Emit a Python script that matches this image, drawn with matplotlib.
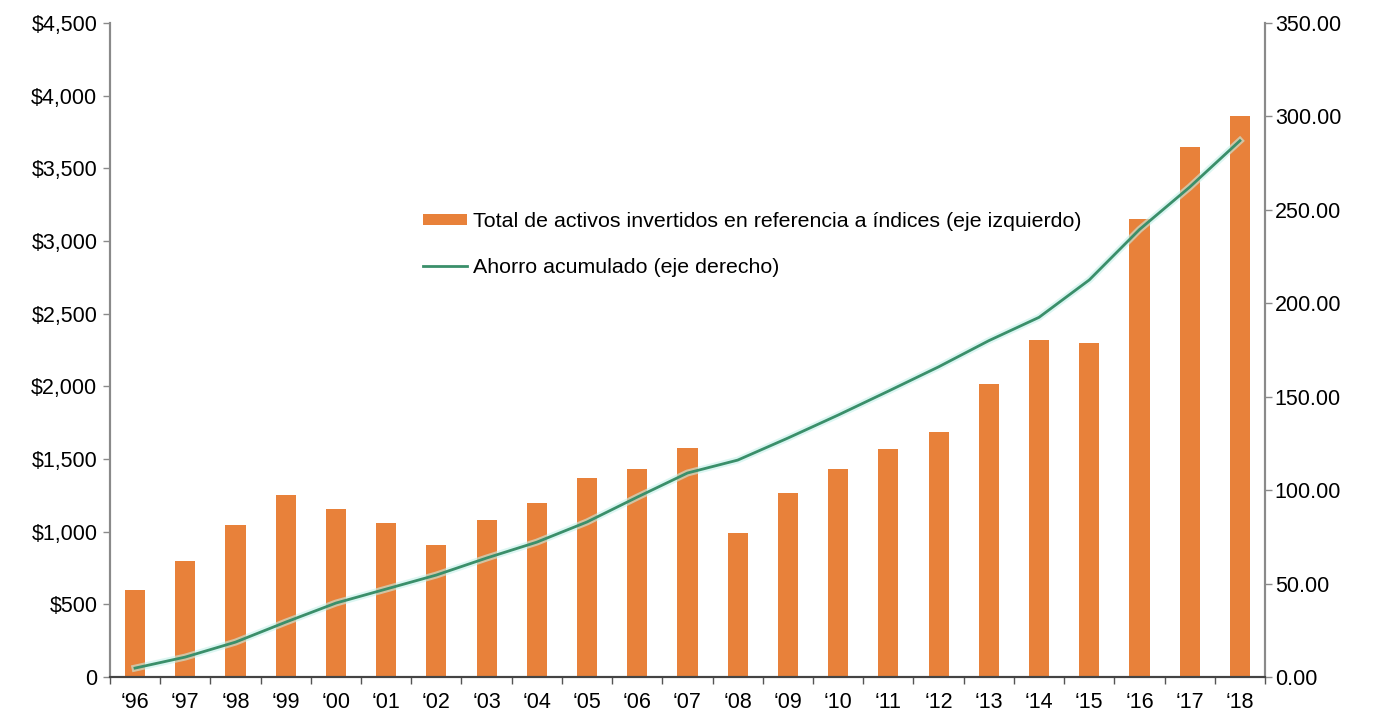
import matplotlib
matplotlib.use("Agg")
from matplotlib import pyplot as plt
from matplotlib.ticker import FuncFormatter, FixedLocator
import numpy as np

plt.rcParams['font.family'] = ['Liberation Sans', 'DejaVu Sans']

years = ["‘96", "‘97", "‘98", "‘99", "‘00", "‘01", "‘02", "‘03", "‘04", "‘05", "‘06", "‘07",
         "‘08", "‘09", "‘10", "‘11", "‘12", "‘13", "‘14", "‘15", "‘16", "‘17", "‘18"]
# total de activos (eje izquierdo, miles de millones de USD)
activos = [600, 800, 1045, 1250, 1155, 1060, 910, 1080, 1200, 1370, 1430, 1575,
           990, 1265, 1430, 1570, 1685, 2015, 2320, 2300, 3150, 3645, 3860]
# ahorro acumulado (eje derecho)
ahorro = [4.8, 10.7, 18.7, 29.4, 39.6, 47.1, 54.6, 63.7, 72.2, 83.0, 96.3, 109.2,
          116.1, 127.9, 140.2, 153.0, 166.0, 180.0, 192.5, 212.5, 239.5, 262.2, 287.0]

left_ticks = [0, 500, 1000, 1500, 2000, 2500, 3000, 3500, 4000, 4500]
right_ticks = [0, 50, 100, 150, 200, 250, 300, 350]

orange = '#E8813A'
green = '#3a8f6a'
spine_grey = '#8a8a8a'

fig = plt.figure(figsize=(13.74, 7.18), dpi=100)
ax = fig.add_axes([0.080, 0.057, 0.8407, 0.911])
ax2 = ax.twinx()

x = np.arange(len(years))
bars = ax.bar(x, activos, width=0.4, color=orange, zorder=2,
              label='Total de activos invertidos en referencia a índices (eje izquierdo)')
ax2.plot(x, ahorro, color='#c4f0ea', linewidth=5, alpha=0.6, zorder=2)
line, = ax2.plot(x, ahorro, color=green, linewidth=2, zorder=3,
                 label='Ahorro acumulado (eje derecho)')

ax.set_xlim(-0.5, len(years) - 0.5)
ax.set_ylim(0, 4500)
ax2.set_ylim(0, 350)
ax.set_yticks(left_ticks)
ax2.set_yticks(right_ticks)
ax.yaxis.set_major_formatter(FuncFormatter(lambda v, p: '0' if v == 0 else '${:,.0f}'.format(v)))
ax2.yaxis.set_major_formatter(FuncFormatter(lambda v, p: '{:.2f}'.format(v)))

ax.set_xticks(x)
ax.set_xticklabels(years)
ax.xaxis.set_minor_locator(FixedLocator(np.arange(-0.5, len(years), 1.0)))
ax.tick_params(axis='x', which='major', length=0, pad=11, labelsize=15.5)
ax.tick_params(axis='x', which='minor', length=5, width=1, color='#555555', direction='out')
ax.tick_params(axis='y', length=5, width=1, color=spine_grey, labelsize=15.5, pad=4)
ax2.tick_params(axis='y', length=5, width=1, color=spine_grey, labelsize=15.5, pad=2)

for a in (ax, ax2):
    a.spines['top'].set_visible(False)
    a.spines['left'].set_color(spine_grey)
    a.spines['right'].set_color(spine_grey)
    a.spines['bottom'].set_color('#444444')
    a.spines['left'].set_linewidth(1.5)
    a.spines['right'].set_linewidth(1.5)
    a.spines['bottom'].set_linewidth(1.5)

leg = ax.legend(handles=[bars, line], loc='upper left', bbox_to_anchor=(0.271, 0.711),
                frameon=False, borderaxespad=0, borderpad=0,
                handlelength=2.05, handleheight=0.47, labelspacing=1.24, handletextpad=0.28,
                prop={'size': 15.4})

fig.savefig('out.png', dpi=100, facecolor='white')
